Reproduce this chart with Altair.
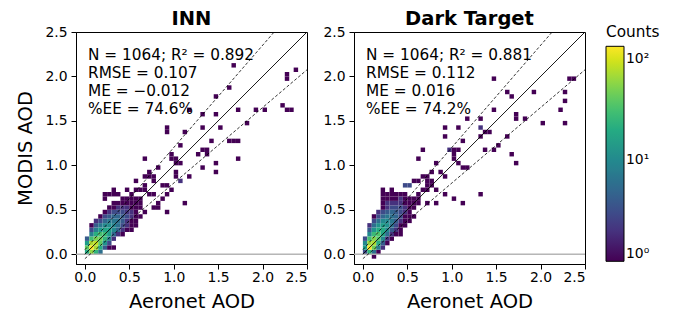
import altair as alt
import pandas as pd

# ---------------- data ----------------
bin_w = 0.05
core_x = [0.00, 0.05, 0.10, 0.15, 0.20, 0.25, 0.30, 0.35, 0.40, 0.45, 0.50, 0.55, 0.60]

# INN: dense core counts, rows = y bins (listed in inn_core_y), cols = core_x
inn_core_y = [0.00, 0.05, 0.10, 0.15, 0.20, 0.25, 0.30, 0.35, 0.40, 0.45, 0.50, 0.55, 0.60]
inn_core = [
    [20, 60, 25, 6, 0, 0, 0, 0, 0, 0, 0, 0, 0],
    [40, 134, 70, 20, 4, 1, 1, 0, 0, 0, 0, 0, 0],
    [15, 75, 85, 40, 12, 3, 0, 0, 0, 0, 0, 0, 0],
    [4, 30, 50, 45, 25, 8, 2, 0, 0, 0, 0, 0, 0],
    [0, 8, 22, 32, 28, 15, 5, 2, 1, 0, 0, 0, 0],
    [0, 3, 8, 14, 18, 16, 10, 5, 2, 1, 1, 0, 0],
    [0, 1, 4, 7, 10, 11, 9, 6, 3, 2, 1, 1, 0],
    [0, 0, 2, 3, 5, 7, 7, 6, 4, 2, 1, 1, 0],
    [0, 0, 0, 1, 3, 4, 5, 5, 4, 3, 2, 1, 1],
    [0, 0, 0, 0, 1, 2, 3, 3, 3, 2, 2, 1, 0],
    [0, 0, 0, 0, 0, 1, 1, 2, 2, 2, 1, 1, 1],
    [0, 0, 0, 0, 0, 0, 1, 1, 1, 1, 1, 1, 1],
    [0, 0, 0, 0, 1, 0, 0, 0, 1, 1, 1, 1, 1],
]
# INN: scattered cells outside the core
inn_sp_x = [1.65, 2.35, 2.25, 2.25, 1.60, 1.45, 1.15, 1.30, 1.45, 1.70, 1.90, 2.00, 2.20, 2.25, 2.30,
            1.80, 0.90, 0.90, 1.10, 1.30, 1.50, 1.40, 1.60, 1.65, 1.70, 1.05, 1.30, 1.35, 1.35, 1.25,
            1.70, 0.65, 0.95, 0.95, 1.00, 0.80, 1.00, 1.05, 1.30, 1.45, 1.45, 1.00, 1.00, 1.15, 1.05,
            0.65, 0.70, 0.70, 0.55, 0.75, 0.75, 0.45, 0.65, 0.85, 0.90, 0.95, 0.90, 0.85, 0.30, 0.20,
            0.25, 0.30, 0.35, 1.10, 0.90, 0.65, 0.75, 0.80, 0.50, 0.55, 0.60, 0.65, 0.70, 0.75, 0.80]
inn_sp_y = [2.10, 2.05, 2.00, 1.95, 1.85, 1.75, 1.60, 1.55, 1.55, 1.60, 1.60, 1.60, 1.65, 1.60, 1.60,
            1.45, 1.40, 1.35, 1.35, 1.40, 1.40, 1.25, 1.25, 1.25, 1.25, 1.20, 1.15, 1.15, 1.10, 1.10,
            1.05, 1.05, 1.10, 1.05, 1.05, 0.95, 1.00, 1.00, 0.95, 1.00, 0.90, 0.90, 0.85, 0.85, 0.80,
            0.85, 0.85, 0.90, 0.80, 0.85, 0.80, 0.70, 0.75, 0.75, 0.75, 0.70, 0.65, 0.60, 0.70, 0.65,
            0.65, 0.65, 0.65, 0.55, 0.45, 0.45, 0.50, 0.50, 0.65, 0.70, 0.70, 0.70, 0.65, 0.65, 0.55]
inn_sp_c = [1] * 44 + [2] + [1] * 30

# Dark Target: dense core
dt_core_y = [-0.05, 0.00, 0.05, 0.10, 0.15, 0.20, 0.25, 0.30, 0.35, 0.40, 0.45, 0.50, 0.55,
             0.60, 0.65, 0.70, 0.75]
dt_core = [
    [0, 0, 1, 0, 0, 0, 0, 0, 0, 0, 0, 0, 0],
    [3, 25, 6, 1, 0, 0, 0, 0, 0, 0, 0, 0, 0],
    [15, 134, 45, 8, 2, 0, 0, 0, 0, 0, 0, 0, 0],
    [10, 65, 75, 22, 4, 1, 0, 0, 0, 0, 0, 0, 0],
    [3, 30, 55, 35, 10, 2, 1, 0, 0, 0, 0, 0, 0],
    [0, 10, 28, 35, 18, 6, 2, 1, 1, 0, 0, 0, 0],
    [0, 4, 12, 20, 20, 10, 4, 2, 1, 0, 0, 0, 0],
    [0, 2, 6, 12, 15, 12, 6, 3, 1, 1, 0, 0, 0],
    [0, 0, 3, 6, 10, 10, 7, 4, 2, 1, 1, 0, 0],
    [0, 0, 1, 3, 5, 7, 6, 5, 3, 1, 1, 1, 0],
    [0, 0, 0, 2, 3, 4, 5, 4, 3, 2, 1, 0, 0],
    [0, 0, 0, 0, 1, 2, 3, 3, 3, 2, 1, 1, 0],
    [0, 0, 0, 0, 1, 2, 2, 2, 2, 1, 1, 1, 1],
    [0, 0, 0, 0, 1, 1, 1, 1, 2, 1, 1, 1, 1],
    [0, 0, 0, 0, 1, 1, 1, 1, 1, 1, 0, 0, 1],
    [0, 0, 0, 0, 1, 0, 1, 0, 0, 0, 0, 0, 0],
    [0, 0, 0, 0, 0, 0, 0, 0, 0, 3, 3, 0, 0],
]
dt_sp_x = [1.45, 2.30, 2.35, 1.60, 1.65, 1.90, 2.25, 2.25, 2.20, 1.45, 1.70, 1.70, 1.80, 2.00, 2.25,
           1.15, 1.30, 0.90, 1.05, 1.30, 1.35, 1.40, 0.90, 1.30, 1.10, 1.60, 1.50, 1.45, 1.65, 1.70,
           0.65, 0.60, 0.80, 0.95, 1.00, 1.05, 1.00, 1.00, 1.05, 1.10, 1.15, 1.35, 0.75, 0.85, 0.90,
           0.90, 1.00, 1.10, 1.30, 0.70, 0.80, 0.65, 0.70, 0.70, 0.75, 0.70, 0.75, 0.65, 0.70, 0.60,
           0.55, 0.80]
dt_sp_y = [1.95, 1.95, 1.95, 1.80, 1.75, 1.80, 1.80, 1.70, 1.60, 1.60, 1.55, 1.50, 1.50, 1.45, 1.45,
           1.50, 1.50, 1.40, 1.40, 1.40, 1.35, 1.35, 1.30, 1.30, 1.25, 1.30, 1.20, 1.15, 1.10, 1.00,
           1.15, 1.05, 1.00, 1.15, 1.15, 1.15, 1.10, 1.05, 1.00, 0.95, 0.95, 1.15, 0.90, 0.90, 0.85,
           0.65, 0.60, 0.55, 0.65, 0.55, 0.55, 0.85, 0.85, 0.80, 0.80, 0.75, 0.75, 0.70, 0.70, 0.80,
           0.80, 0.70]
dt_sp_c = [1] * 19 + [2] + [1] * 13 + [2] + [1] * 28

stat_n = [1064, 1064]
stat_r2 = ["0.892", "0.881"]
stat_rmse = ["0.107", "0.112"]
stat_me = ["\u22120.012", "0.016"]
stat_ee = ["74.6", "74.2"]
panel_titles = ["INN", "Dark Target"]
axis_ticks = [0.0, 0.5, 1.0, 1.5, 2.0, 2.5]
line_ends = [0.0, 2.5]
cmax = 134


def build_df(core_y, core, sp_x, sp_y, sp_c):
    rows = []
    for yv, row in zip(core_y, core):
        for xv, c in zip(core_x, row):
            if c > 0:
                rows.append((xv, yv, c))
    for xv, yv, c in zip(sp_x, sp_y, sp_c):
        rows.append((xv, yv, c))
    df = pd.DataFrame(rows, columns=["x0", "y0", "c"])
    df = df.groupby(["x0", "y0"], as_index=False)["c"].sum()
    df["x1"] = df["x0"] + bin_w
    df["y1"] = df["y0"] + bin_w
    return df


FONT = "DejaVu Sans"
xscale = alt.Scale(domain=[-0.1, 2.5], nice=False, zero=False)
yscale = alt.Scale(domain=[-0.11, 2.5], nice=False, zero=False)
cscale = alt.Scale(type="log", domain=[1, cmax], scheme="viridis")


def panel(i, df, show_ytitle):
    xax = alt.Axis(values=axis_ticks, format=".1f", title="Aeronet AOD",
                   labelPadding=1, titlePadding=9)
    yax = alt.Axis(values=axis_ticks, format=".1f", title="MODIS AOD" if show_ytitle else "",
                   titlePadding=9)
    heat = alt.Chart(df).mark_rect().encode(
        x=alt.X("x0:Q", scale=xscale, axis=xax),
        x2="x1:Q",
        y=alt.Y("y0:Q", scale=yscale, axis=yax),
        y2="y1:Q",
        color=alt.Color("c:Q", scale=cscale,
                        legend=alt.Legend(title="Counts", values=[1, 10, 100],
                                          orient="none", legendX=530, legendY=-7,
                                          labelExpr="datum.value == 1 ? '10\u2070' : datum.value == 10 ? '10\u00b9' : '10\u00b2'")),
    )
    ldf = pd.DataFrame({"x": line_ends})
    zero = alt.Chart(ldf).mark_rule(color="#b0b0b0", strokeWidth=1).encode(y=alt.datum(0))
    one = alt.Chart(ldf).mark_line(color="black", strokeWidth=0.9, clip=True).encode(
        x="x:Q", y="x:Q")
    up = alt.Chart(ldf).transform_calculate(yu="0.05 + 1.15*datum.x").mark_line(
        color="black", strokeWidth=0.8, strokeDash=[3, 2], clip=True).encode(x="x:Q", y="yu:Q")
    lo = alt.Chart(ldf).transform_calculate(yl="0.85*datum.x - 0.05").mark_line(
        color="black", strokeWidth=0.8, strokeDash=[3, 2], clip=True).encode(x="x:Q", y="yl:Q")
    txt = (f"N = {stat_n[i]}; R\u00b2 = {stat_r2[i]}\nRMSE = {stat_rmse[i]}\n"
           f"ME = {stat_me[i]}\n%EE = {stat_ee[i]}%")
    tdf = pd.DataFrame({"t": [txt]})
    text = alt.Chart(tdf).mark_text(align="left", baseline="top", lineBreak="\n",
                                    fontSize=15.3, font=FONT, lineHeight=18,
                                    color="black").encode(
        x=alt.value(12), y=alt.value(16), text="t:N")
    return alt.layer(heat, zero, one, up, lo, text).properties(
        width=231, height=232,
        title=alt.Title(panel_titles[i], fontSize=19.5, font=FONT, fontWeight="bold",
                        color="black", offset=-4))


inn_df = build_df(inn_core_y, inn_core, inn_sp_x, inn_sp_y, inn_sp_c)
dt_df = build_df(dt_core_y, dt_core, dt_sp_x, dt_sp_y, dt_sp_c)

chart = alt.hconcat(panel(0, inn_df, True), panel(1, dt_df, False), spacing=47,
                    bounds="flush").resolve_scale(color="shared").properties(
    padding={"left": 7, "top": 0, "right": 2, "bottom": 2}
).configure_axis(
    grid=False, labelFont=FONT, labelFontSize=13.9, labelColor="black",
    titleFont=FONT, titleFontSize=19.5, titleFontWeight="normal", titleColor="black",
    domainColor="black", tickColor="black", tickSize=5, labelPadding=4, titlePadding=6,
).configure_view(stroke="black", strokeWidth=1).configure_legend(
    gradientLength=215, gradientThickness=18, gradientStrokeColor="black",
    gradientStrokeWidth=1, titleFont=FONT, titleFontSize=15.3, titleFontWeight="normal",
    titleColor="black", labelFont=FONT, labelFontSize=13.9, labelColor="black",
    labelOffset=7, titlePadding=6,
)

chart.save("out.html", embed_options={"renderer": "svg", "actions": False})
